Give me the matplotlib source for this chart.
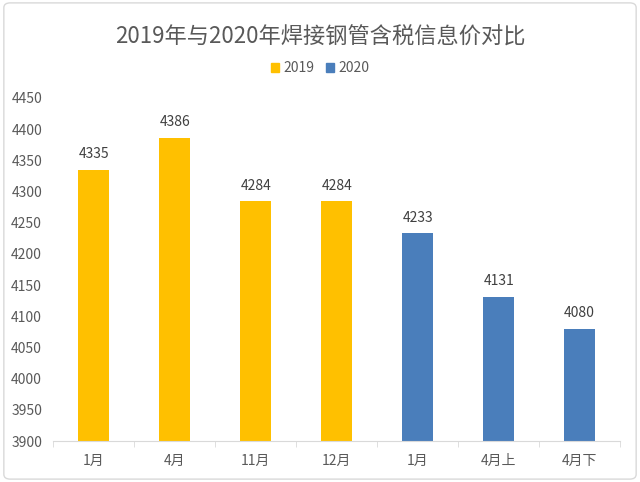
import numpy as np
import matplotlib.pyplot as plt
from matplotlib.patches import FancyBboxPatch

plt.rcParams['font.family'] = ['Noto Sans CJK SC', 'DejaVu Sans']

# data
months = ["1月", "4月", "11月", "12月", "1月", "4月上", "4月下"]
prices = [4335, 4386, 4284, 4284, 4233, 4131, 4080]
years = ["2019", "2019", "2019", "2019", "2020", "2020", "2020"]
yticks = np.arange(3900, 4451, 50)

col = {"2019": "#FFC000", "2020": "#4A7EBB"}
grey = "#595959"

fig = plt.figure(figsize=(6.4, 4.82), dpi=100)
ax = fig.add_axes([0.083, 0.085, 0.886, 0.712])

x = np.arange(len(months))
ax.bar(x, [p - 3900 for p in prices], bottom=3900, width=0.39,
       color=[col[y] for y in years])
for xi, p in zip(x, prices):
    ax.text(xi, p + 14, str(p), ha="center", va="bottom", fontsize=10, color="#404040")

ax.set_xlim(-0.5, len(months) - 0.5)
ax.set_ylim(3900, 4450)
ax.set_yticks(yticks)
ax.set_xticks(x)
ax.set_xticklabels(months)
ax.set_xticks(np.arange(-0.5, len(months)), minor=True)
ax.tick_params(axis="x", which="major", length=0, pad=9, labelsize=10, labelcolor=grey)
ax.tick_params(axis="x", which="minor", length=4, color="#D9D9D9")
ax.tick_params(axis="y", length=0, pad=8, labelsize=10, labelcolor=grey)
for s in ["top", "right", "left"]:
    ax.spines[s].set_visible(False)
ax.spines["bottom"].set_color("#D9D9D9")

fig.text(0.5, 0.923, "2019年与2020年焊接钢管含税信息价对比", ha="center", va="center",
         fontsize=16, color=grey)

# legend
handles = [plt.Rectangle((0, 0), 1, 1, color=col[k]) for k in ["2019", "2020"]]
fig.legend(handles, ["2019", "2020"], loc="center", bbox_to_anchor=(0.5, 0.858), ncol=2,
           frameon=False, fontsize=10, handlelength=0.6, handleheight=0.6,
           handletextpad=0.3, columnspacing=0.8, labelcolor=grey)

fig.patches.append(FancyBboxPatch((0.006, 0.006), 0.988, 0.988, boxstyle="round,pad=0,rounding_size=0.01",
                                  transform=fig.transFigure, fill=False, edgecolor="#D9D9D9", lw=1))

fig.savefig("out.png", dpi=100)
